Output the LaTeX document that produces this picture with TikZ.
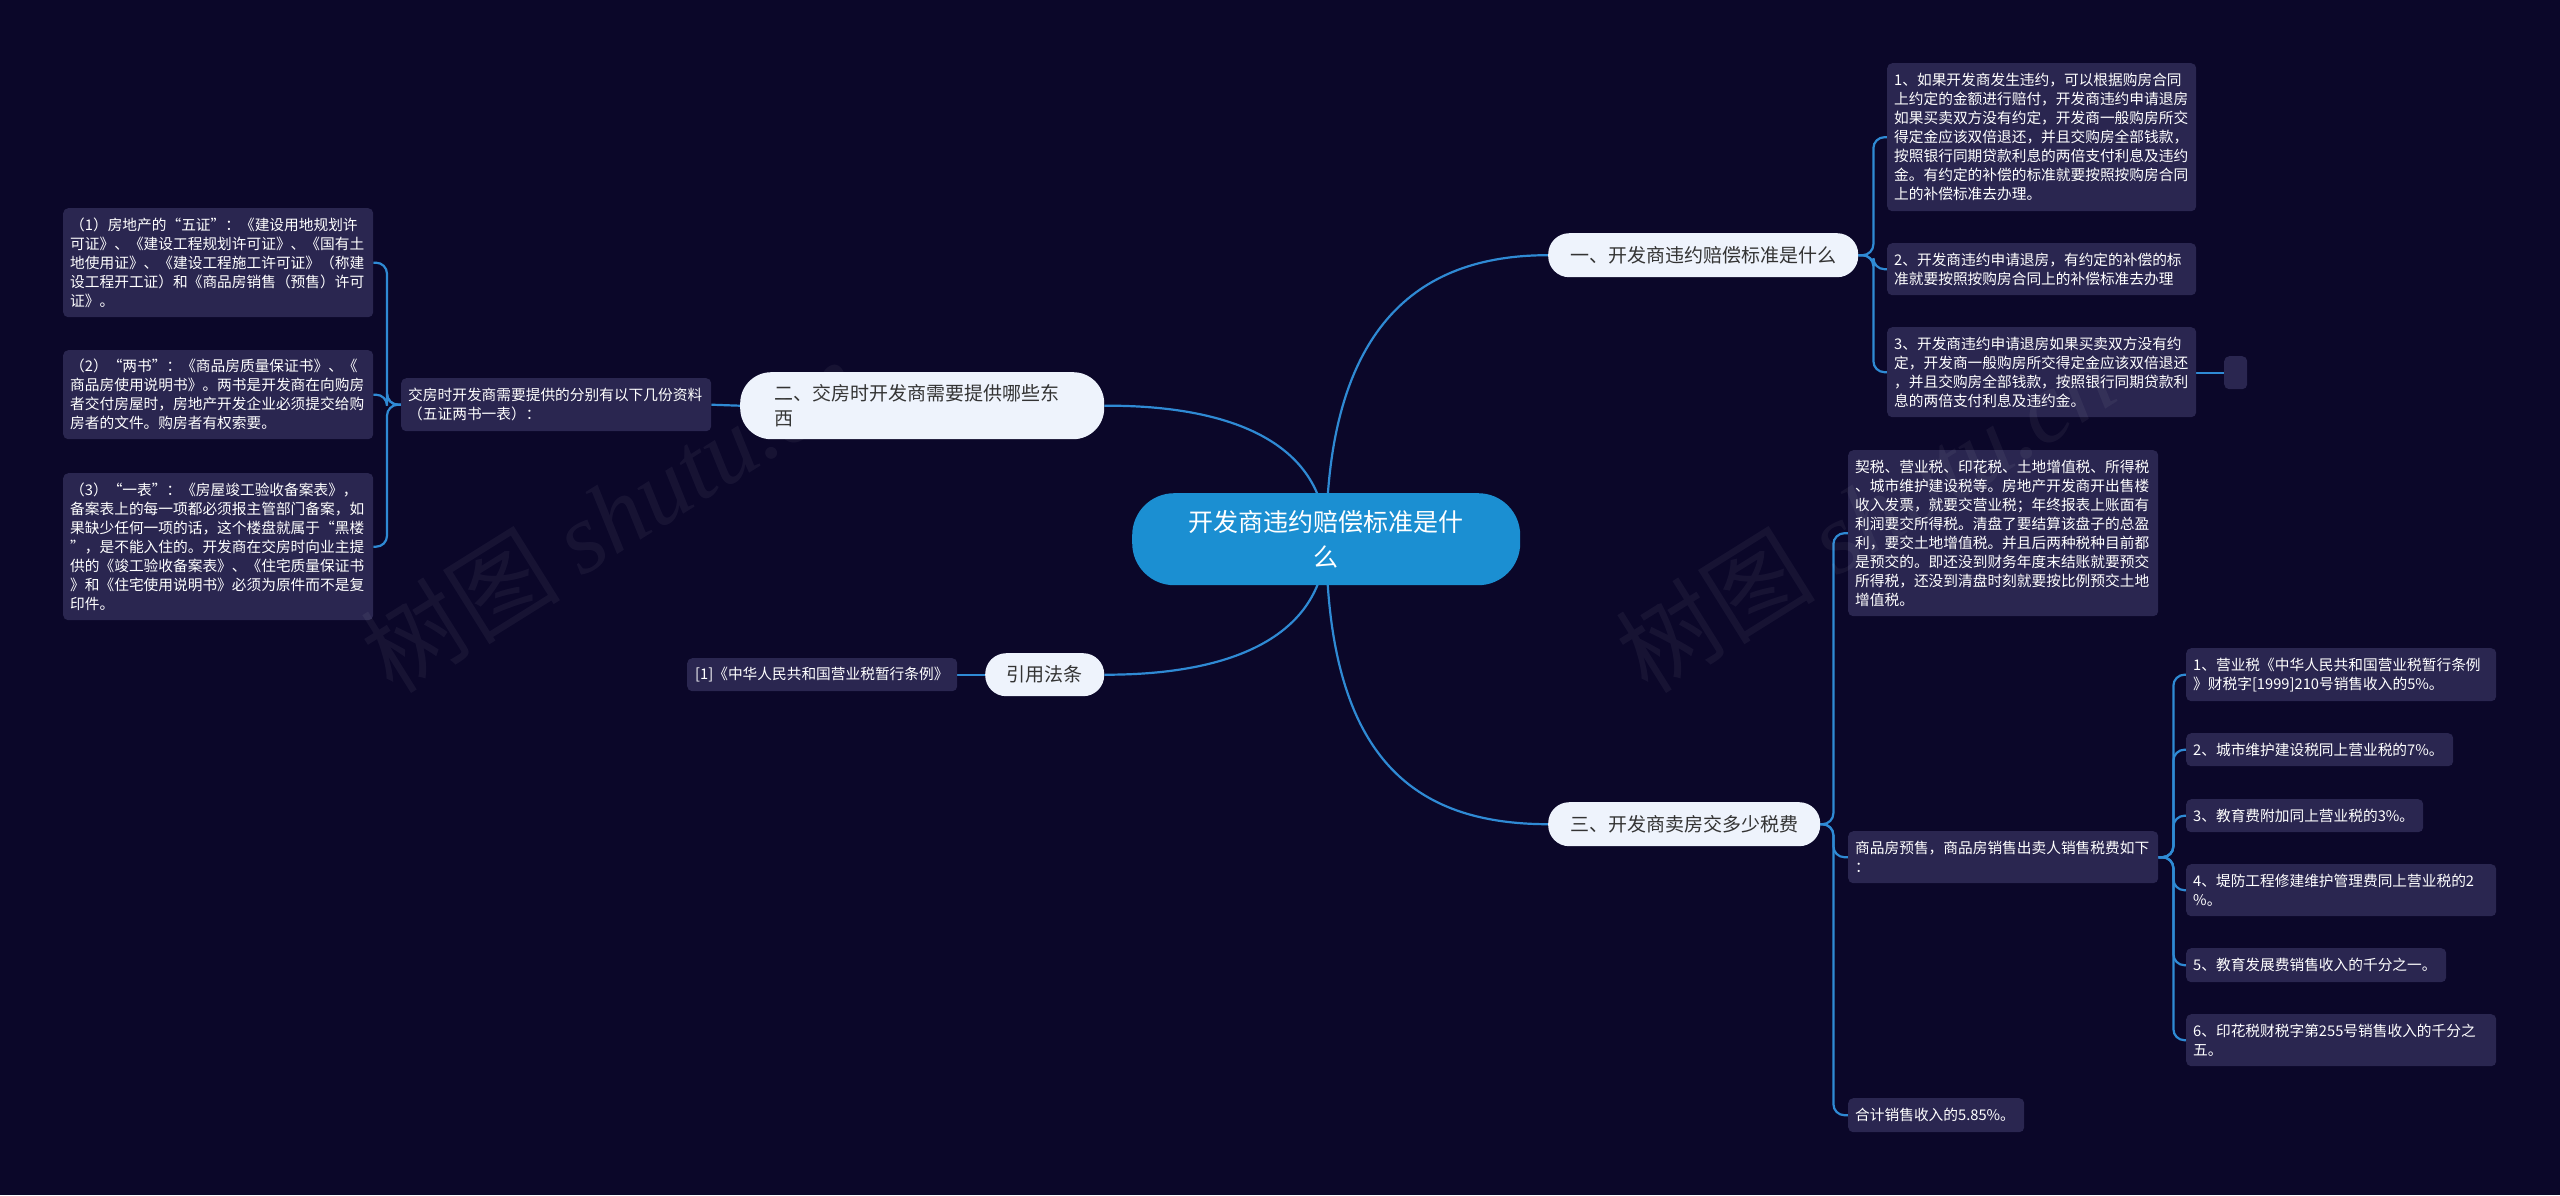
\documentclass[tikz,border=0pt]{standalone}
\usepackage{fontspec}
\setmainfont{Noto Sans CJK SC}
\newfontfamily\wmlatin{Liberation Serif}
\usetikzlibrary{backgrounds}
\definecolor{bgc}{HTML}{0B0729}
\definecolor{boxc}{HTML}{2A2650}
\definecolor{pillc}{HTML}{EEF3FC}
\definecolor{pilltext}{HTML}{333333}
\definecolor{centc}{HTML}{1B8FD2}
\definecolor{linec}{HTML}{2F8AD4}
\tikzset{
  leaf/.style={fill=boxc, rounded corners=5, text=white, align=left,
    font=\fontsize{14.7}{19}\selectfont, inner xsep=7, inner ysep=0,
    anchor=north west},
  pill/.style={fill=pillc, text=pilltext, rounded corners=21,
    font=\fontsize{19}{25}\selectfont, inner sep=0, anchor=north west},
  centre/.style={fill=centc, text=white, rounded corners=42, align=center,
    font=\fontsize{25}{35}\selectfont, inner sep=0, anchor=north west},
  conn/.style={draw=linec, line width=2.2pt, rounded corners=11},
  curveconn/.style={draw=linec, line width=2.2pt},
  wm/.style={text=white, opacity=0.05, rotate=32, inner sep=0}
}
\begin{document}
\begin{tikzpicture}[x=1pt,y=-1pt]
\useasboundingbox (0,0) rectangle (2560,1195);

% central and level-1 nodes
\node[centre, minimum width=388, minimum height=92, text width=388] (c) at (1132,493) {开发商违约赔偿标准是什\\么};
\node[pill, minimum width=310, minimum height=44] (n1) at (1548,233) {一、开发商违约赔偿标准是什么};
\node[pill, minimum width=272, minimum height=44] (n3) at (1548,802) {三、开发商卖房交多少税费};
\node[pill, minimum width=364, minimum height=67, rounded corners=31, align=left, inner xsep=34, text width=296] (n2) at (740,372) {二、交房时开发商需要提供哪些东\\西};
\node[pill, minimum width=119, minimum height=43] (n4) at (985,653) {引用法条};

% branch 1
\node[leaf, text width=295, minimum height=148] (b11) at (1887,63) {1、如果开发商发生违约，可以根据购房合同\\上约定的金额进行赔付，开发商违约申请退房\\如果买卖双方没有约定，开发商一般购房所交\\得定金应该双倍退还，并且交购房全部钱款，\\按照银行同期贷款利息的两倍支付利息及违约\\金。有约定的补偿的标准就要按照按购房合同\\上的补偿标准去办理。};
\node[leaf, text width=295, minimum height=52] (b12) at (1887,243) {2、开发商违约申请退房，有约定的补偿的标\\准就要按照按购房合同上的补偿标准去办理};
\node[leaf, text width=295, minimum height=90] (b13) at (1887,327) {3、开发商违约申请退房如果买卖双方没有约\\定，开发商一般购房所交得定金应该双倍退还\\，并且交购房全部钱款，按照银行同期贷款利\\息的两倍支付利息及违约金。};
\node[leaf, inner xsep=0, minimum width=23, minimum height=33] (bsm) at (2224,356) {};

% branch 2
\node[leaf, text width=296, minimum height=53] (jf) at (401,378) {交房时开发商需要提供的分别有以下几份资料\\（五证两书一表）：};
\node[leaf, text width=296, minimum height=109] (l1) at (63,208) {（1）房地产的“五证”：《建设用地规划许\\可证》、《建设工程规划许可证》、《国有土\\地使用证》、《建设工程施工许可证》（称建\\设工程开工证）和《商品房销售（预售）许可\\证》。};
\node[leaf, text width=296, minimum height=89] (l2) at (63,350) {（2）“两书”：《商品房质量保证书》、《\\商品房使用说明书》。两书是开发商在向购房\\者交付房屋时，房地产开发企业必须提交给购\\房者的文件。购房者有权索要。};
\node[leaf, text width=296, minimum height=147] (l3) at (63,473) {（3）“一表”：《房屋竣工验收备案表》，\\备案表上的每一项都必须报主管部门备案，如\\果缺少任何一项的话，这个楼盘就属于“黑楼\\”，是不能入住的。开发商在交房时向业主提\\供的《竣工验收备案表》、《住宅质量保证书\\》和《住宅使用说明书》必须为原件而不是复\\印件。};

% branch 4
\node[leaf, text width=254, inner xsep=8, minimum height=33] (ref) at (687,658) {[1]《中华人民共和国营业税暂行条例》};

% branch 3
\node[leaf, text width=296, minimum height=166] (c31) at (1848,450) {契税、营业税、印花税、土地增值税、所得税\\、城市维护建设税等。房地产开发商开出售楼\\收入发票，就要交营业税；年终报表上账面有\\利润要交所得税。清盘了要结算该盘子的总盈\\利，要交土地增值税。并且后两种税种目前都\\是预交的。即还没到财务年度末结账就要预交\\所得税，还没到清盘时刻就要按比例预交土地\\增值税。};
\node[leaf, text width=296, minimum height=52] (c32) at (1848,831) {商品房预售，商品房销售出卖人销售税费如下\\：};
\node[leaf, text width=162, minimum height=34] (c33) at (1848,1098) {合计销售收入的5.85\%。};

\node[leaf, text width=296, minimum height=53] (t1) at (2186,648) {1、营业税《中华人民共和国营业税暂行条例\\》财税字[1999]210号销售收入的5\%。};
\node[leaf, text width=253, minimum height=33] (t2) at (2186,733) {2、城市维护建设税同上营业税的7\%。};
\node[leaf, text width=223, minimum height=33] (t3) at (2186,799) {3、教育费附加同上营业税的3\%。};
\node[leaf, text width=296, minimum height=52] (t4) at (2186,864) {4、堤防工程修建维护管理费同上营业税的2\\\%。};
\node[leaf, text width=246, minimum height=34] (t5) at (2186,948) {5、教育发展费销售收入的千分之一。};
\node[leaf, text width=296, minimum height=52] (t6) at (2186,1014) {6、印花税财税字第255号销售收入的千分之\\五。};

% watermarks
\node[wm] (wm1) at (610,515) {\fontsize{100}{100}\selectfont 树图 {\wmlatin\itshape shutu.cn}};
\node[wm] (wm2) at (1865,515) {\fontsize{100}{100}\selectfont 树图 {\wmlatin\itshape shutu.cn}};

\begin{scope}[on background layer]
\fill[bgc] (0,0) rectangle (2560,1195);
% main curves
\draw[curveconn] (c.center) .. controls (1327,330) and (1415,255) .. (n1.west);
\draw[curveconn] (c.center) .. controls (1327,760) and (1415,824) .. (n3.west);
\draw[curveconn] (c.center) .. controls (1325,445) and (1235,405) .. (n2.east);
\draw[curveconn] (c.center) .. controls (1325,635) and (1235,675) .. (n4.east);
% branch 1
\draw[conn] (n1.east) -- ++(15,0) |- (b11.west);
\draw[conn] (n1.east) -- ++(15,0) |- (b12.west);
\draw[conn] (n1.east) -- ++(15,0) |- (b13.west);
\draw[conn] (b13.east |- bsm.west) -- (bsm.west);
% branch 2
\draw[conn] (n2.west) -- (jf.east);
\draw[conn] (jf.west) -- ++(-14,0) |- (l1.east);
\draw[conn] (jf.west) -- ++(-14,0) |- (l2.east);
\draw[conn] (jf.west) -- ++(-14,0) |- (l3.east);
% branch 4
\draw[conn] (n4.west) -- (ref.east);
% branch 3
\draw[conn] (n3.east) -- ++(13,0) |- (c31.west);
\draw[conn] (n3.east) -- ++(13,0) |- (c32.west);
\draw[conn] (n3.east) -- ++(13,0) |- (c33.west);
\draw[conn] (c32.east) -- ++(15,0) |- (t1.west);
\draw[conn] (c32.east) -- ++(15,0) |- (t2.west);
\draw[conn] (c32.east) -- ++(15,0) |- (t3.west);
\draw[conn] (c32.east) -- ++(15,0) |- (t4.west);
\draw[conn] (c32.east) -- ++(15,0) |- (t5.west);
\draw[conn] (c32.east) -- ++(15,0) |- (t6.west);
\end{scope}
\end{tikzpicture}
\end{document}
